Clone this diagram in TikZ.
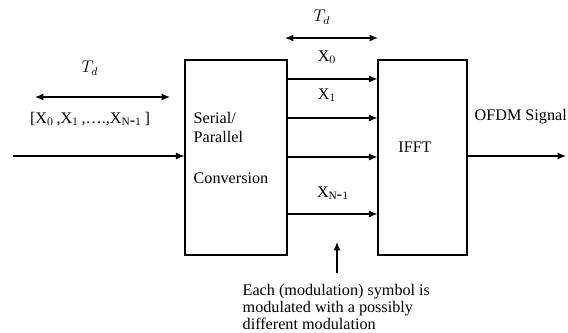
\documentclass[tikz,border=0pt]{standalone}
\usepackage{fontspec}
\setmainfont{Liberation Serif}
\usepackage{tikz}
\usetikzlibrary{positioning, arrows.meta}

\tikzset{
  blk/.style={draw, line width=0.8pt, minimum height=4.875cm},
  sig/.style={-{Latex[length=6pt,width=5pt]}, line width=0.8pt},
  span/.style={{Latex[length=6pt,width=5pt]}-{Latex[length=6pt,width=5pt]}, line width=0.8pt},
  lbl/.style={inner sep=1pt}
}

\begin{document}
\begin{tikzpicture}[x=0.025cm, y=-0.025cm, font=\fontsize{11.5}{12}\selectfont]
        \useasboundingbox (0,0) rectangle (568,333);

        % blocks
        \node[blk, minimum width=2.55cm] (sp) at (236,157.5) {};
        \node[blk, minimum width=2.225cm] (ifft) at (422.5,157.5) {};
        \node[lbl, anchor=west] (serial) at (192,118) {Serial/};
        \node[lbl, anchor=west] (parallel) at (192,137) {Parallel};
        \node[lbl, anchor=west] (conv) at (192,178) {Conversion};
        \node[lbl] (ifftname) at (415,147) {IFFT};

        % input side
        \coordinate (tdl) at (35,97);
        \coordinate (tdr) at (170,97);
        \draw[span] (tdl) -- (tdr);
        \node[lbl] (tdin) at (90,68) {$T_d$};
        \node[lbl] (blockin) at (90,119) {[X$_0$\,,X$_1$\,,\ldots.,X$_{\mathrm{N}\mbox{-}1}$\,]};
        \coordinate (in) at (13,156);
        \draw[sig] (in) -- (in -| sp.west);

        % parallel lines
        \foreach \y in {79,118,157,214}
          \draw[sig] (sp.east |- 0,\y) -- (ifft.west |- 0,\y);
        \coordinate (tpl) at (285,38);
        \coordinate (tpr) at (378,38);
        \draw[span] (tpl) -- (tpr);
        \node[lbl] (tdpar) at (322,17) {$T_d$};
        \node[lbl] (xzero) at (327,57) {X$_0$};
        \node[lbl] (xone) at (327,95) {X$_1$};
        \node[lbl] (xlast) at (333,193) {X$_{\mathrm{N}\mbox{-}1}$};

        % output
        \coordinate (out) at (566,156);
        \draw[sig] (ifft.east |- out) -- (out);
        \node[lbl, anchor=west] (ofdm) at (473,117) {OFDM Signal};

        % note
        \node[lbl, anchor=north west, align=left] (note) at (241,283)
          {Each (modulation) symbol is\\modulated with a possibly\\different modulation};
        \coordinate (notebase) at (337,273);
        \coordinate (notetip) at (337,242);
        \draw[sig] (notebase) -- (notetip);
\end{tikzpicture}
\end{document}
